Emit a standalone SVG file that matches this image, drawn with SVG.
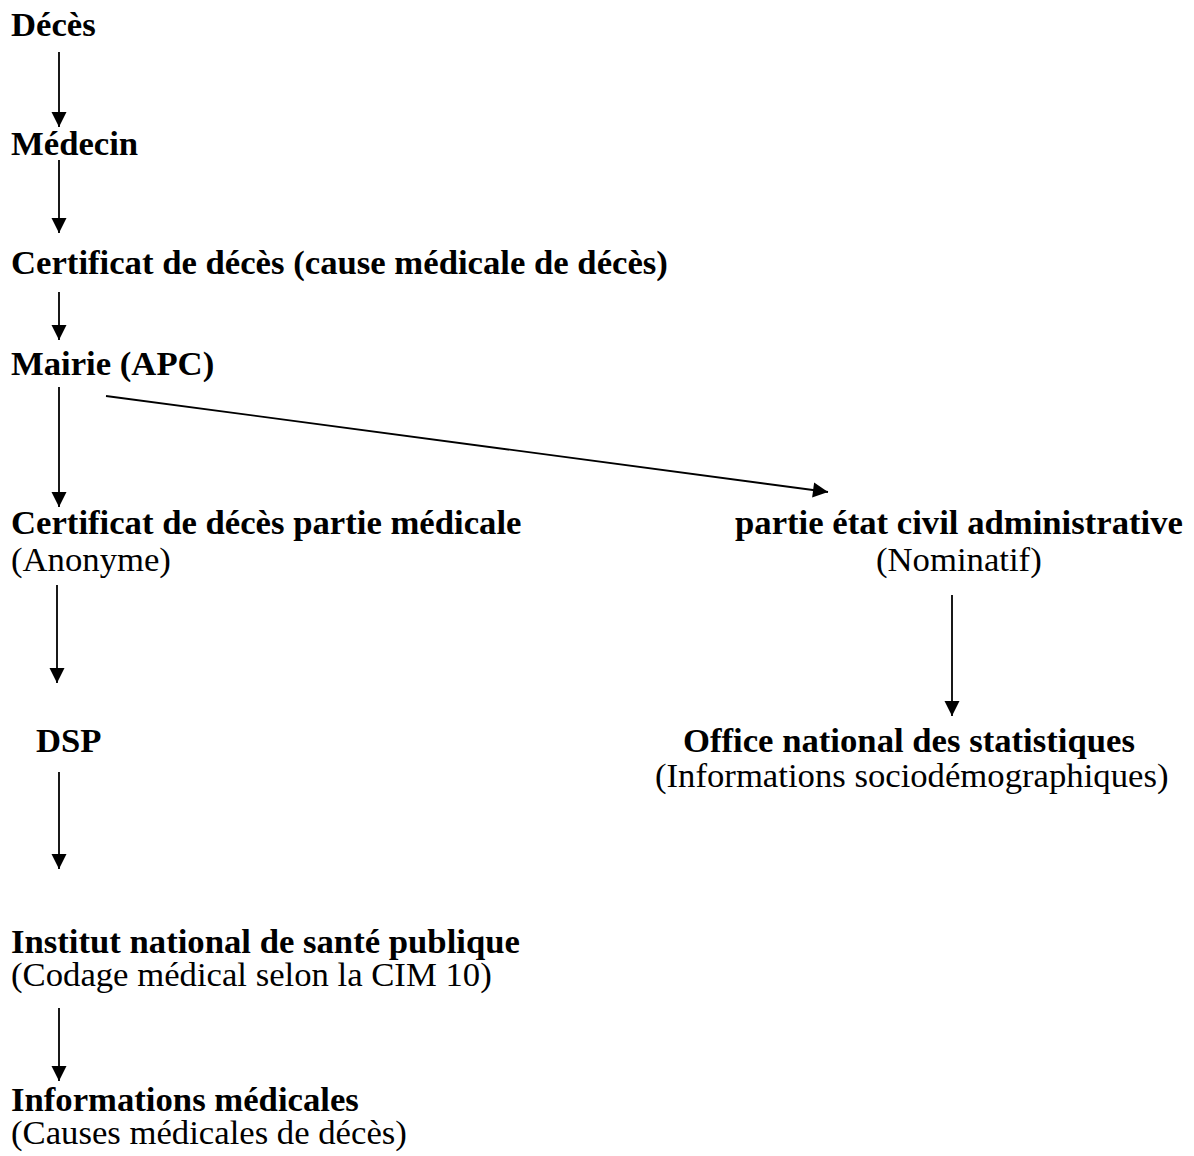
<svg xmlns="http://www.w3.org/2000/svg" width="1194" height="1156" viewBox="0 0 1194 1156">
<style>
text{font-family:"Liberation Serif","Times New Roman",serif;font-size:34.7px;fill:#000}
.b{font-weight:bold}
.c line{stroke:#000;stroke-width:1.8;fill:none;marker-end:url(#ah)}
</style>
<defs>
<marker id="ah" markerUnits="userSpaceOnUse" markerWidth="16" markerHeight="16" refX="15" refY="7.5" orient="auto" overflow="visible">
<path d="M0,0 L15,7.5 L0,15 z" fill="#000"/>
</marker>
</defs>
<rect width="1194" height="1156" fill="#fff"/>
<g id="n-deces"><text class="b" x="11" y="36">Décès</text></g>
<g id="n-medecin"><text class="b" x="11" y="155">Médecin</text></g>
<g id="n-certificat"><text class="b" x="11" y="274">Certificat de décès (cause médicale de décès)</text></g>
<g id="n-mairie"><text class="b" x="11" y="375">Mairie (APC)</text></g>
<g id="n-partie-medicale"><text class="b" x="11" y="534">Certificat de décès partie médicale</text><text x="11" y="571">(Anonyme)</text></g>
<g id="n-partie-civil"><text class="b" x="735" y="534">partie état civil administrative</text><text x="876" y="571">(Nominatif)</text></g>
<g id="n-dsp"><text class="b" x="36" y="752">DSP</text></g>
<g id="n-ons"><text class="b" x="683" y="752">Office national des statistiques</text><text x="655" y="787">(Informations sociodémographiques)</text></g>
<g id="n-insp"><text class="b" x="11" y="953">Institut national de santé publique</text><text x="11" y="986">(Codage médical selon la CIM 10)</text></g>
<g id="n-info"><text class="b" x="11" y="1111">Informations médicales</text><text x="11" y="1144">(Causes médicales de décès)</text></g>
<g id="connectors" class="c">
<line x1="59" y1="52" x2="59" y2="127"/>
<line x1="59" y1="160" x2="59" y2="233"/>
<line x1="59" y1="292" x2="59" y2="340"/>
<line x1="59" y1="387" x2="59" y2="507"/>
<line x1="106" y1="396" x2="828" y2="492"/>
<line x1="57" y1="585" x2="57" y2="683"/>
<line x1="59" y1="772" x2="59" y2="869"/>
<line x1="952" y1="595" x2="952" y2="716"/>
<line x1="59" y1="1008" x2="59" y2="1081"/>
</g>
</svg>
